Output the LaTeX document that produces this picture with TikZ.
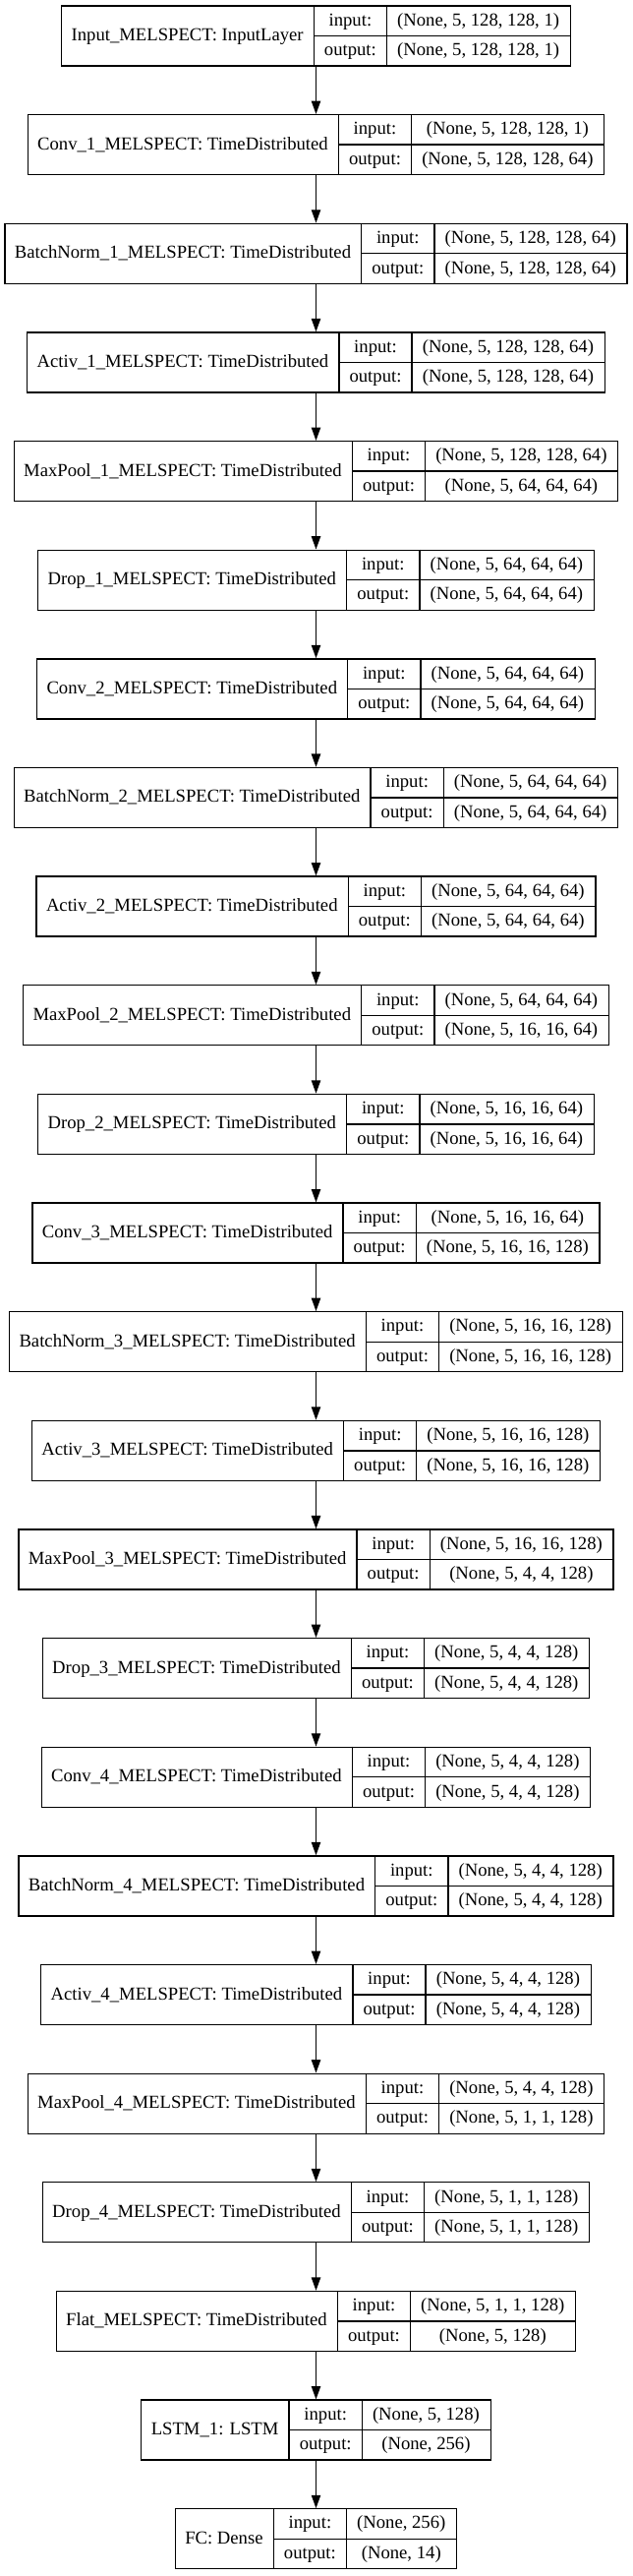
\documentclass[tikz,border=0pt]{standalone}
\usepackage{fontspec}
\setmainfont{Liberation Serif}
\usetikzlibrary{arrows.meta}

\newcommand{\boxfont}{\fontsize{14pt}{16pt}\selectfont}
\newlength{\wname}
\newlength{\wlab}
\newlength{\wval}
\newlength{\wtmp}

% width of a text in the box font (measured outside the picture's null font)
\newcommand{\getwidth}[2]{%
  \pgfinterruptpicture
    \settowidth{\wtmp}{\normalfont\boxfont #2}\global#1=\wtmp\relax
  \endpgfinterruptpicture}

% one record box: node name, row, title, input shape, output shape
\newcommand{\layer}[5]{%
  \getwidth{\wname}{#3}\addtolength{\wname}{16pt}%
  \getwidth{\wlab}{output:}\addtolength{\wlab}{16pt}%
  \getwidth{\wval}{#4}\getwidth{\wtmp}{#5}%
  \ifdim\wtmp>\wval \setlength{\wval}{\wtmp}\fi
  \addtolength{\wval}{16pt}%
  \pgfmathsetlengthmacro{\wall}{\wname+\wlab+\wval}%
  \node[layerbox, minimum width=\wall] (#1) at (321.5, {36.5+110.64*#2}) {};
  \node[field] (#1-t) at ([xshift={0.5*\wname}]#1.west) {#3};
  \draw[rule] ([xshift=\wname]#1.north west) -- ([xshift=\wname]#1.south west);
  \draw[rule] ([xshift={\wname+\wlab}]#1.north west) -- ([xshift={\wname+\wlab}]#1.south west);
  \draw[rule] ([xshift=\wname]#1.west) -- (#1.east);
  \node[field] (#1-il) at ([xshift={\wname+0.5*\wlab}, yshift=11.44pt]#1.west) {input:};
  \node[field] (#1-ol) at ([xshift={\wname+0.5*\wlab}, yshift=-11.44pt]#1.west) {output:};
  \node[field] (#1-iv) at ([xshift={\wname+\wlab+0.5*\wval}, yshift=11.44pt]#1.west) {#4};
  \node[field] (#1-ov) at ([xshift={\wname+\wlab+0.5*\wval}, yshift=-11.44pt]#1.west) {#5};
}

\tikzset{
  layerbox/.style={draw, line width=1pt, minimum height=45.75pt, inner sep=0pt},
  field/.style={inner sep=0pt, text height=10pt, text depth=2.5pt, font=\boxfont},
  rule/.style={line width=1pt},
  link/.style={line width=1pt, -{Triangle[length=10pt, width=7pt]}}
}

\begin{document}
\begin{tikzpicture}[x=0.75pt, y=-0.75pt]
  \useasboundingbox (0,0) rectangle (643,2619);

  \layer{input}{0}{Input\_MELSPECT: InputLayer}{(None, 5, 128, 128, 1)}{(None, 5, 128, 128, 1)}
  \layer{conv1}{1}{Conv\_1\_MELSPECT: TimeDistributed}{(None, 5, 128, 128, 1)}{(None, 5, 128, 128, 64)}
  \layer{bn1}{2}{BatchNorm\_1\_MELSPECT: TimeDistributed}{(None, 5, 128, 128, 64)}{(None, 5, 128, 128, 64)}
  \layer{act1}{3}{Activ\_1\_MELSPECT: TimeDistributed}{(None, 5, 128, 128, 64)}{(None, 5, 128, 128, 64)}
  \layer{pool1}{4}{MaxPool\_1\_MELSPECT: TimeDistributed}{(None, 5, 128, 128, 64)}{(None, 5, 64, 64, 64)}
  \layer{drop1}{5}{Drop\_1\_MELSPECT: TimeDistributed}{(None, 5, 64, 64, 64)}{(None, 5, 64, 64, 64)}
  \layer{conv2}{6}{Conv\_2\_MELSPECT: TimeDistributed}{(None, 5, 64, 64, 64)}{(None, 5, 64, 64, 64)}
  \layer{bn2}{7}{BatchNorm\_2\_MELSPECT: TimeDistributed}{(None, 5, 64, 64, 64)}{(None, 5, 64, 64, 64)}
  \layer{act2}{8}{Activ\_2\_MELSPECT: TimeDistributed}{(None, 5, 64, 64, 64)}{(None, 5, 64, 64, 64)}
  \layer{pool2}{9}{MaxPool\_2\_MELSPECT: TimeDistributed}{(None, 5, 64, 64, 64)}{(None, 5, 16, 16, 64)}
  \layer{drop2}{10}{Drop\_2\_MELSPECT: TimeDistributed}{(None, 5, 16, 16, 64)}{(None, 5, 16, 16, 64)}
  \layer{conv3}{11}{Conv\_3\_MELSPECT: TimeDistributed}{(None, 5, 16, 16, 64)}{(None, 5, 16, 16, 128)}
  \layer{bn3}{12}{BatchNorm\_3\_MELSPECT: TimeDistributed}{(None, 5, 16, 16, 128)}{(None, 5, 16, 16, 128)}
  \layer{act3}{13}{Activ\_3\_MELSPECT: TimeDistributed}{(None, 5, 16, 16, 128)}{(None, 5, 16, 16, 128)}
  \layer{pool3}{14}{MaxPool\_3\_MELSPECT: TimeDistributed}{(None, 5, 16, 16, 128)}{(None, 5, 4, 4, 128)}
  \layer{drop3}{15}{Drop\_3\_MELSPECT: TimeDistributed}{(None, 5, 4, 4, 128)}{(None, 5, 4, 4, 128)}
  \layer{conv4}{16}{Conv\_4\_MELSPECT: TimeDistributed}{(None, 5, 4, 4, 128)}{(None, 5, 4, 4, 128)}
  \layer{bn4}{17}{BatchNorm\_4\_MELSPECT: TimeDistributed}{(None, 5, 4, 4, 128)}{(None, 5, 4, 4, 128)}
  \layer{act4}{18}{Activ\_4\_MELSPECT: TimeDistributed}{(None, 5, 4, 4, 128)}{(None, 5, 4, 4, 128)}
  \layer{pool4}{19}{MaxPool\_4\_MELSPECT: TimeDistributed}{(None, 5, 4, 4, 128)}{(None, 5, 1, 1, 128)}
  \layer{drop4}{20}{Drop\_4\_MELSPECT: TimeDistributed}{(None, 5, 1, 1, 128)}{(None, 5, 1, 1, 128)}
  \layer{flat}{21}{Flat\_MELSPECT: TimeDistributed}{(None, 5, 1, 1, 128)}{(None, 5, 128)}
  \layer{lstm}{22}{LSTM\_1: LSTM}{(None, 5, 128)}{(None, 256)}
  \layer{fc}{23}{FC: Dense}{(None, 256)}{(None, 14)}

  % connections
  \draw[link] (input) -- (conv1);
  \draw[link] (conv1) -- (bn1);
  \draw[link] (bn1) -- (act1);
  \draw[link] (act1) -- (pool1);
  \draw[link] (pool1) -- (drop1);
  \draw[link] (drop1) -- (conv2);
  \draw[link] (conv2) -- (bn2);
  \draw[link] (bn2) -- (act2);
  \draw[link] (act2) -- (pool2);
  \draw[link] (pool2) -- (drop2);
  \draw[link] (drop2) -- (conv3);
  \draw[link] (conv3) -- (bn3);
  \draw[link] (bn3) -- (act3);
  \draw[link] (act3) -- (pool3);
  \draw[link] (pool3) -- (drop3);
  \draw[link] (drop3) -- (conv4);
  \draw[link] (conv4) -- (bn4);
  \draw[link] (bn4) -- (act4);
  \draw[link] (act4) -- (pool4);
  \draw[link] (pool4) -- (drop4);
  \draw[link] (drop4) -- (flat);
  \draw[link] (flat) -- (lstm);
  \draw[link] (lstm) -- (fc);

\end{tikzpicture}
\end{document}
